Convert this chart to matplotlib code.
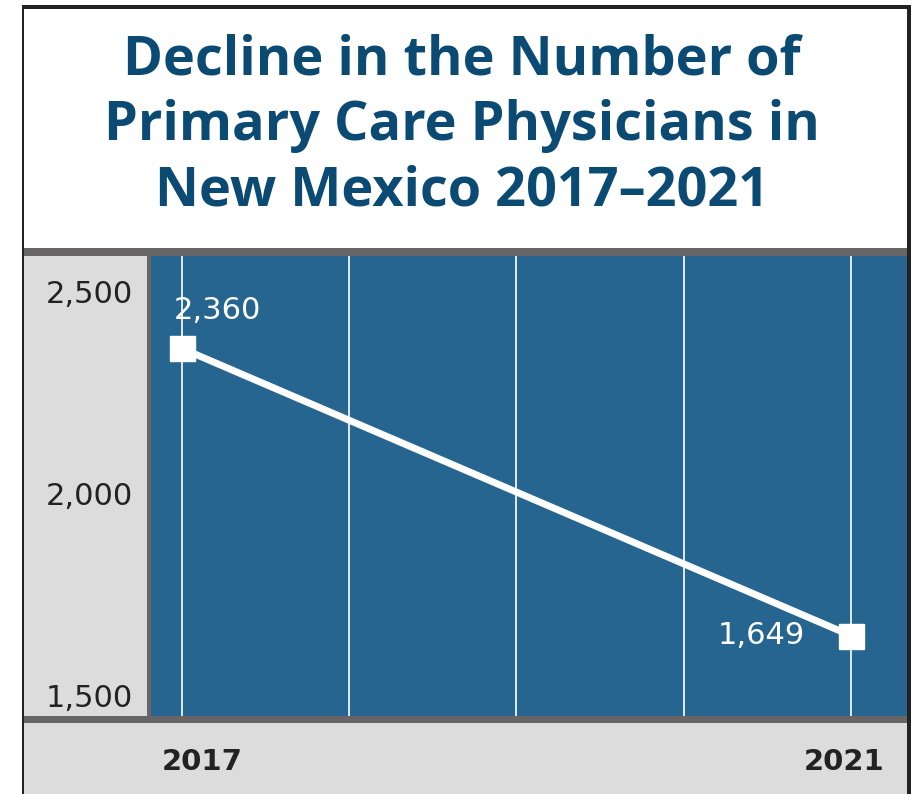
import matplotlib.pyplot as plt
import matplotlib.transforms as mtransforms
from matplotlib.patches import Rectangle

# physician counts at the two endpoints
years = [2017, 2021]
physicians = [2360, 1649]
grid_years = [2017, 2018, 2019, 2020, 2021]
y_ticks = [1500, 2000, 2500]
title = "Decline in the Number of\nPrimary Care Physicians in\nNew Mexico 2017–2021"

W, H = 918, 794
BLUE = "#266590"
PANEL = "#dcdcdc"
BAND = "#676565"
TITLE_COLOR = "#0b4a73"
NUM_FONT = ["DejaVu Sans"]

plt.rcParams['font.family'] = ['Open Sans', 'DejaVu Sans']

fig = plt.figure(figsize=(W / 100, H / 100), dpi=100)
fig.patch.set_facecolor("white")


def box(x0, y0, x1, y1):
    # pixel box (top-left origin) -> figure fraction rect
    return [x0 / W, 1 - y1 / H, (x1 - x0) / W, (y1 - y0) / H]


def rect(x0, y0, x1, y1, color):
    l, b, w, h = box(x0, y0, x1, y1)
    fig.add_artist(Rectangle((l, b), w, h, transform=fig.transFigure,
                             facecolor=color, edgecolor="none", zorder=0))


# frame and panels
rect(22, 5, 911, 9, "#222222")        # top border
rect(22, 5, 24, 794, "#222222")       # left border
rect(907, 5, 911, 794, "#222222")     # right border
rect(24, 248, 907, 256, BAND)         # header separator
rect(24, 256, 147, 716, PANEL)        # y-axis panel
rect(147, 256, 151, 716, BAND)
rect(24, 716, 907, 723, BAND)         # bottom separator
rect(24, 723, 907, 794, PANEL)        # x-axis panel

fig.text(462 / W, 1 - 126 / H, title, ha="center", va="center",
         fontsize=39, fontweight="bold", color=TITLE_COLOR, linespacing=1.27)

ax = fig.add_axes(box(151, 256, 907, 716))
ax.set_facecolor(BLUE)
for s in ax.spines.values():
    s.set_visible(False)
ax.set_xlim(2016.815, 2021.335)
ax.set_ylim(1450, 2589)

for gx in grid_years:
    ax.axvline(gx, color="white", lw=1.2, zorder=1)

ax.plot(years, physicians, color="white", lw=5, marker="s", ms=18,
        mfc="white", mec="white", zorder=3)

ax.annotate(f"{physicians[0]:,}", (years[0], physicians[0]), xytext=(-6, 27),
            textcoords="offset points", ha="left", va="center",
            fontsize=22, color="white", family=NUM_FONT)
ax.annotate(f"{physicians[1]:,}", (years[1], physicians[1]), xytext=(-33, 0),
            textcoords="offset points", ha="right", va="center",
            fontsize=22, color="white", family=NUM_FONT)

ax.set_yticks(y_ticks, labels=[f"{t:,}" for t in y_ticks])
ax.set_xticks(years, labels=[str(y) for y in years])
ax.tick_params(axis="y", length=0, pad=13, labelsize=22, labelcolor="#222222")
ax.tick_params(axis="x", length=0, pad=23, labelsize=21, labelcolor="#222222")
for lbl in ax.get_yticklabels():
    lbl.set_family(NUM_FONT)
for lbl in ax.get_xticklabels():
    lbl.set_family(NUM_FONT)
    lbl.set_fontweight("bold")

# nudge the year labels the way they sit under the grid
for lbl, dx in zip(ax.get_xticklabels(), [20, -7]):
    lbl.set_transform(lbl.get_transform() +
                      mtransforms.ScaledTranslation(dx / 100, 0, fig.dpi_scale_trans))

fig.savefig("out.png", dpi=100)
